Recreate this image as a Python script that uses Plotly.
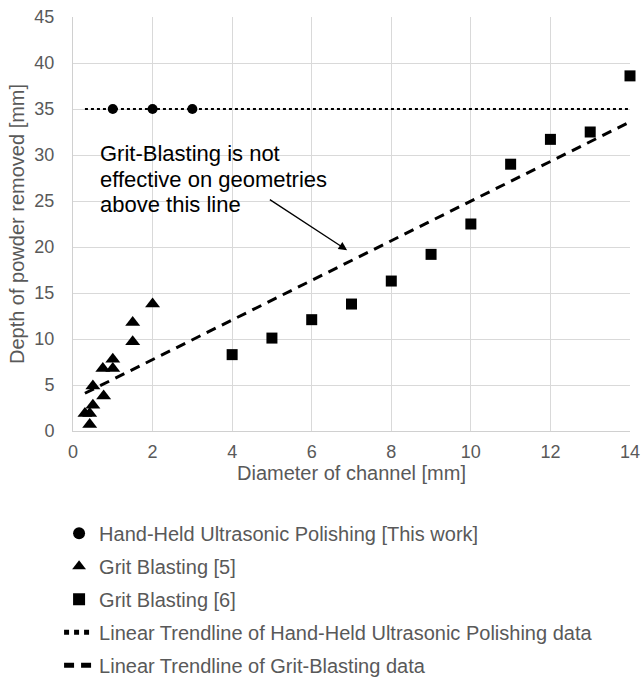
import plotly.graph_objects as go

# Hand-Held Ultrasonic Polishing [This work]
hh_x = [1, 2, 3]
hh_y = [35, 35, 35]

# Grit Blasting [5]
gb5_x = [0.3, 0.42, 0.42, 0.5, 0.5, 0.77, 0.75, 1.0, 1.0, 1.5, 1.5, 2.0]
gb5_y = [1.9, 1.9, 0.7, 2.8, 4.9, 3.8, 6.8, 6.8, 7.8, 9.7, 11.8, 13.8]

# Grit Blasting [6]
gb6_x = [4, 5, 6, 7, 8, 9, 10, 11, 12, 13, 14]
gb6_y = [8.3, 10.1, 12.1, 13.8, 16.3, 19.2, 22.5, 29.0, 31.7, 32.5, 38.6]

# Trendlines (endpoints)
hh_trend_x = [0.3, 14]
hh_trend_y = [35, 35]
gb_trend_x = [0.3, 14]
gb_trend_y = [4.1, 33.6]

x_ticks = [0, 2, 4, 6, 8, 10, 12, 14]
y_ticks = [0, 5, 10, 15, 20, 25, 30, 35, 40, 45]

annot_lines = ["Grit-Blasting is not", "effective on geometries", "above this line"]
annot_y = [30.2, 27.3, 24.6]
annot_x = 0.64
arrow_head = (6.89, 19.65)
arrow_tail = (4.91, 25.26)

FONT = "Liberation Sans, Arial, sans-serif"
GREY = "#595959"

fig = go.Figure()
fig.add_trace(go.Scatter(x=hh_x, y=hh_y, mode="markers", name="Hand-Held Ultrasonic Polishing [This work]",
                         marker=dict(symbol="circle", size=10, color="black"), legendgroup="a", cliponaxis=False))
fig.add_trace(go.Scatter(x=gb5_x, y=gb5_y, mode="markers", name="Grit Blasting [5]",
                         marker=dict(symbol="triangle-up", size=13, color="black"), legendgroup="b", cliponaxis=False))
fig.add_trace(go.Scatter(x=gb6_x, y=gb6_y, mode="markers", name="Grit Blasting [6]",
                         marker=dict(symbol="square", size=11, color="black"), legendgroup="c", cliponaxis=False))
fig.add_trace(go.Scatter(x=hh_trend_x, y=hh_trend_y, mode="lines",
                         name="Linear Trendline of Hand-Held Ultrasonic Polishing data",
                         line=dict(color="black", width=2, dash="dot"), legendgroup="d"))
fig.add_trace(go.Scatter(x=gb_trend_x, y=gb_trend_y, mode="lines",
                         name="Linear Trendline of Grit-Blasting data",
                         line=dict(color="black", width=3, dash="10px,7px"), legendgroup="e"))

for txt, yy in zip(annot_lines, annot_y):
    fig.add_annotation(x=annot_x, y=yy, xref="x", yref="y", text=txt, showarrow=False,
                       xanchor="left", yanchor="middle", font=dict(family=FONT, size=22, color="black"))
fig.add_annotation(x=arrow_head[0], y=arrow_head[1], ax=arrow_tail[0], ay=arrow_tail[1],
                   xref="x", yref="y", axref="x", ayref="y", text="", showarrow=True,
                   arrowhead=2, arrowsize=1.3, arrowwidth=1.3, arrowcolor="black")

axis_common = dict(showgrid=True, gridcolor="#d9d9d9", gridwidth=1, zeroline=False,
                   showline=True, linecolor="#d0d0d0", linewidth=1,
                   tickfont=dict(family=FONT, size=18, color=GREY), ticks="",
                   ticklabeloverflow="allow")
fig.update_xaxes(range=[0, 14], tickvals=x_ticks, ticklabelstandoff=4,
                 title=dict(text="Diameter of channel [mm]", font=dict(family=FONT, size=20, color=GREY), standoff=0),
                 **axis_common)
fig.update_yaxes(range=[0, 45], tickvals=y_ticks, ticklabelstandoff=14,
                 title=dict(text="Depth of powder removed [mm]", font=dict(family=FONT, size=20, color=GREY), standoff=4),
                 **axis_common)

fig.update_layout(
    width=642, height=678,
    margin=dict(l=73, r=12, t=17, b=247, autoexpand=False),
    plot_bgcolor="white", paper_bgcolor="white",
    font=dict(family=FONT, color=GREY),
    legend=dict(x=-0.025, y=-0.2, xanchor="left", yanchor="top", orientation="v",
                font=dict(family=FONT, size=20, color=GREY), tracegroupgap=4,
                itemsizing="constant", bgcolor="rgba(0,0,0,0)"),
    showlegend=True,
)

fig.write_html("out.html", config={"displayModeBar": False},
               post_script="document.body.style.margin='0';")
